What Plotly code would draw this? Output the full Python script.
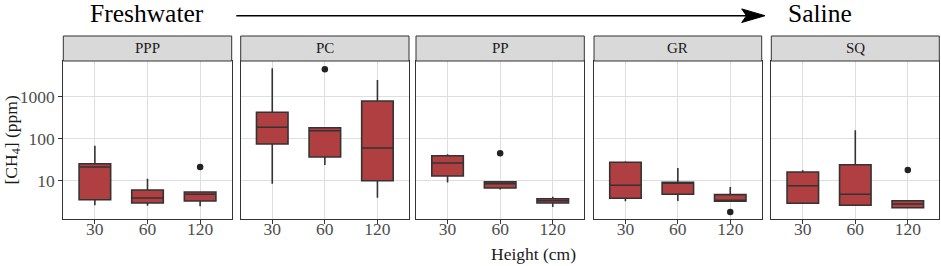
import plotly.graph_objects as go

W, H = 941, 266

sites = ["PPP", "PC", "PP", "GR", "SQ"]
heights = ["30", "60", "120"]

# box statistics per site (order of heights: 30, 60, 120)
lowerfence = {
    "PPP": [2.6, 2.54, 2.45],
    "PC": [8.5, 23.7, 3.9],
    "PP": [9.0, 6.2, 2.37],
    "GR": [3.24, 3.29, 3.2],
    "SQ": [2.9, 2.55, 2.27],
}
q1 = {
    "PPP": [3.53, 2.94, 3.29],
    "PC": [74.8, 36.6, 10.0],
    "PP": [12.9, 6.7, 2.94],
    "GR": [3.81, 4.74, 3.24],
    "SQ": [2.9, 2.6, 2.27],
}
median = {
    "PPP": [21.2, 3.87, 4.74],
    "PC": [187, 155, 60],
    "PP": [26.4, 8.5, 3.34],
    "GR": [7.77, 8.67, 3.41],
    "SQ": [7.6, 4.74, 2.79],
}
q3 = {
    "PPP": [25.4, 6.0, 5.38],
    "PC": [425, 183, 790],
    "PP": [39.4, 9.47, 3.73],
    "GR": [27.4, 9.16, 4.65],
    "SQ": [16.1, 24.0, 3.34],
}
upperfence = {
    "PPP": [68, 11.2, 5.5],
    "PC": [4740, 183, 2500],
    "PP": [42.6, 9.47, 4.16],
    "GR": [29, 20, 7.08],
    "SQ": [17.7, 158, 3.34],
}
outlier_site = ["PPP", "PC", "PP", "GR", "SQ"]
outlier_height = ["120", "60", "60", "120", "120"]
outlier_value = [21.2, 4490, 44.9, 1.8, 18]

ylab = "[CH<sub>4</sub>] (ppm)"
xlab = "Height (cm)"
left_title = "Freshwater"
right_title = "Saline"

# layout geometry (pixels)
panel_x = [(63.3, 231.7), (240.7, 409.0), (416.0, 584.3), (594.0, 761.7), (771.3, 939.3)]
panel_top, panel_bottom = 61.0, 219.0
strip_top = 36.0

def px(x):
    return x / W

def py(y):
    return 1 - y / H

FONT = "Liberation Serif"
FILL = "#B03F41"
LINE = "#333333"

fig = go.Figure()
layout = {}
shapes = []
annotations = []

for i, s in enumerate(sites):
    n = "" if i == 0 else str(i + 1)
    xa, ya = "x" + n, "y" + n
    fig.add_trace(go.Box(
        x=heights, q1=q1[s], median=median[s], q3=q3[s],
        lowerfence=lowerfence[s], upperfence=upperfence[s],
        boxpoints=False, width=0.6, whiskerwidth=0,
        fillcolor=FILL, line=dict(color=LINE, width=1.6),
        xaxis=xa, yaxis=ya, showlegend=False, hoverinfo="skip",
    ))
    ox = [h for ss, h in zip(outlier_site, outlier_height) if ss == s]
    oy = [v for ss, v in zip(outlier_site, outlier_value) if ss == s]
    fig.add_trace(go.Scatter(
        x=ox, y=oy, mode="markers",
        marker=dict(color="#222222", size=6.5),
        xaxis=xa, yaxis=ya, showlegend=False, hoverinfo="skip",
    ))
    x0, x1 = panel_x[i]
    layout["xaxis" + n] = dict(
        domain=[px(x0), px(x1)], anchor=ya,
        type="category", categoryorder="array", categoryarray=heights,
        range=[-0.6, 2.6],
        showgrid=True, gridcolor="#dedede", gridwidth=1,
        showline=True, mirror=True, linecolor=LINE, linewidth=1,
        ticks="outside", ticklen=4, tickcolor=LINE,
        ticklabelstandoff=-10,
        tickfont=dict(family=FONT, size=17.5, color="#4d4d4d"),
        zeroline=False, fixedrange=True,
    )
    layout["yaxis" + n] = dict(
        domain=[py(panel_bottom), py(panel_top)], anchor=xa,
        type="log", range=[0.088, 3.85],
        tickvals=[10, 100, 1000], ticktext=["10", "100", "1000"],
        showgrid=True, gridcolor="#dedede", gridwidth=1,
        showline=True, mirror=True, linecolor=LINE, linewidth=1,
        ticks="outside" if i == 0 else "", ticklen=4, tickcolor=LINE,
        showticklabels=(i == 0),
        tickfont=dict(family=FONT, size=17.5, color="#4d4d4d"),
        zeroline=False, fixedrange=True,
    )
    if i > 0:
        layout["yaxis" + n]["matches"] = "y"
    # strip
    shapes.append(dict(type="rect", xref="paper", yref="paper",
                       x0=px(x0), x1=px(x1), y0=py(panel_top), y1=py(strip_top),
                       fillcolor="#d9d9d9", line=dict(color=LINE, width=1)))
    annotations.append(dict(text=s, xref="paper", yref="paper",
                            x=px((x0 + x1) / 2), y=py((strip_top + panel_top) / 2),
                            showarrow=False, xanchor="center", yanchor="middle",
                            font=dict(family=FONT, size=15, color="#1a1a1a")))

# axis titles
annotations.append(dict(text=xlab, xref="paper", yref="paper",
                        x=px(533), y=py(254), showarrow=False,
                        xanchor="center", yanchor="middle",
                        font=dict(family=FONT, size=17.5, color="#1a1a1a")))
annotations.append(dict(text=ylab, xref="paper", yref="paper",
                        x=px(11.5), y=py(140), showarrow=False, textangle=-90,
                        xanchor="center", yanchor="middle",
                        font=dict(family=FONT, size=17.5, color="#1a1a1a")))
# top titles
annotations.append(dict(text=left_title, xref="paper", yref="paper",
                        x=px(146.7), y=py(13), showarrow=False,
                        xanchor="center", yanchor="middle",
                        font=dict(family=FONT, size=25.5, color="#000000")))
annotations.append(dict(text=right_title, xref="paper", yref="paper",
                        x=px(820), y=py(13), showarrow=False,
                        xanchor="center", yanchor="middle",
                        font=dict(family=FONT, size=25.5, color="#000000")))

# arrow
ay = 15.7
shapes.append(dict(type="line", xref="paper", yref="paper",
                   x0=px(236.3), x1=px(748), y0=py(ay), y1=py(ay),
                   line=dict(color="#000000", width=1.6)))
head = "M {} {} L {} {} L {} {} L {} {} Z".format(
    px(765), py(ay), px(741.7), py(ay - 6.8), px(746.5), py(ay),
    px(741.7), py(ay + 6.8))
shapes.append(dict(type="path", xref="paper", yref="paper", path=head,
                   fillcolor="#000000", line=dict(color="#000000", width=1)))

fig.update_layout(
    width=W, height=H,
    margin=dict(l=0, r=0, t=0, b=0),
    paper_bgcolor="white", plot_bgcolor="white",
    shapes=shapes, annotations=annotations,
    **layout,
)

fig.write_html("out.html", config={"displayModeBar": False, "staticPlot": True},
               post_script="document.body.style.margin='0';document.body.style.overflow='hidden';")
